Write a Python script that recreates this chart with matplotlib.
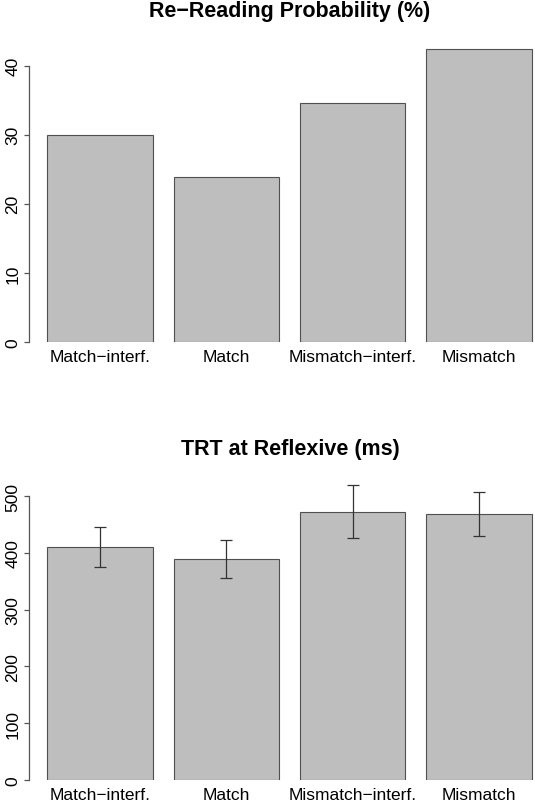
import matplotlib
matplotlib.use("Agg")
import matplotlib.pyplot as plt
import numpy as np

plt.rcParams['font.family'] = ['Liberation Sans', 'DejaVu Sans']

# data
conditions = ["Match\u2212interf.", "Match", "Mismatch\u2212interf.", "Mismatch"]
reread_prob = [29.9, 23.9, 34.6, 42.4]
trt_mean = [411, 389, 473, 468]
trt_err = [35, 33, 46.5, 39]

W, H = 535, 803
fig = plt.figure(figsize=(W / 100, H / 100), dpi=100)

# bar positions like R barplot (width 1, space 0.2)
xpos = 0.7 + 1.2 * np.arange(len(conditions))
bar_col = '#bebebe'
edge_col = '#505050'


def style_axis(ax, top_tick, step):
    for s in ['top', 'right', 'bottom']:
        ax.spines[s].set_visible(False)
    ax.spines['left'].set_bounds(0, top_tick)
    ax.spines['left'].set_color('#555555')
    ax.spines['left'].set_linewidth(0.9)
    ax.set_yticks(np.arange(0, top_tick + step, step))
    ax.tick_params(axis='y', length=3.8, width=0.9, color='#555555',
                   labelsize=12.5, labelrotation=90, pad=2.5)
    for lab in ax.get_yticklabels():
        lab.set_va('center')
    ax.set_xticks(xpos)
    ax.set_xticklabels(conditions)
    ax.tick_params(axis='x', length=0, labelsize=12.5, pad=5)
    ax.set_xlim(0.026, 4.983)


# top panel
ax1 = fig.add_axes([29 / W, 1 - 343 / H, 522 / W, 305 / H])
ax1.bar(xpos, reread_prob, width=1.0, color=bar_col, edgecolor=edge_col, linewidth=0.8)
ax1.set_ylim(0, 44.15)
style_axis(ax1, 40, 10)
ax1.set_title("Re\u2212Reading Probability (%)", fontsize=15.5, fontweight='bold', pad=15)

# bottom panel
ax2 = fig.add_axes([29 / W, 1 - 780.7 / H, 522 / W, 310.7 / H])
ax2.bar(xpos, trt_mean, width=1.0, color=bar_col, edgecolor=edge_col, linewidth=0.8)
ax2.errorbar(xpos, trt_mean, yerr=trt_err, fmt='none', ecolor='#333333',
             elinewidth=0.9, capsize=4, capthick=0.9)
ax2.set_ylim(0, 548)
style_axis(ax2, 500, 100)
ax2.set_title("TRT at Reflexive (ms)", fontsize=15.5, fontweight='bold', pad=11)

fig.savefig("out.png", dpi=100)
